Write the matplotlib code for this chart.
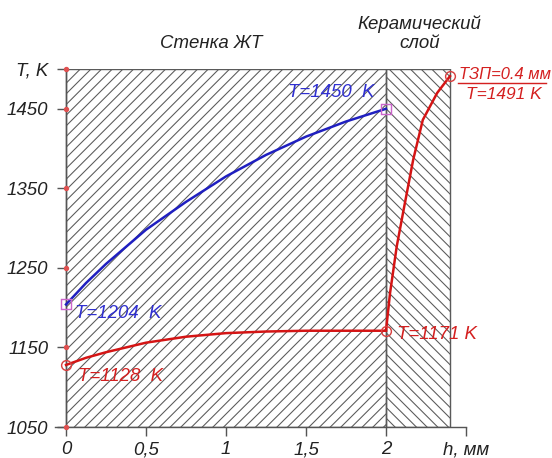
import matplotlib.pyplot as plt
from matplotlib.patches import Rectangle

# данные: стенка ЖТ (0..2 мм) и керамический слой (2..2.4 мм)
h_wall = [0, 0.125, 0.25, 0.5, 0.75, 1.0, 1.25, 1.5, 1.75, 2.0]
T_hot = [1204, 1231, 1255, 1298, 1333, 1365, 1392, 1415, 1434, 1450]
T_cold = [1128, 1137, 1144, 1156, 1163.5, 1168, 1170, 1171, 1171, 1171]
h_ceram = [2.0, 2.025, 2.067, 2.11, 2.17, 2.23, 2.32, 2.4]
T_ceram = [1171, 1218, 1277, 1323, 1386, 1436, 1470, 1491]

x_ticks = [0, 0.5, 1, 1.5, 2, 2.5]
x_labels = ['0', '0,5', '1', '1,5', '2', 'h, мм']
y_ticks = [1050, 1150, 1250, 1350, 1450, 1500]
y_labels = ['1050', '1150', '1250', '1350', '1450', 'T, K']

DPI = 128
FS = 10.5
plt.rcParams['font.family'] = ['Liberation Sans', 'DejaVu Sans']
plt.rcParams['font.style'] = 'italic'
plt.rcParams['hatch.linewidth'] = 0.6

fig = plt.figure(figsize=(552 / DPI, 458 / DPI), dpi=DPI)
ax = fig.add_axes([55 / 552, 31 / 458, 411 / 552, 358 / 458])
ax.set_xlim(-0.069, 2.5)
ax.set_ylim(1050, 1500)

# заштрихованные области
ax.add_patch(Rectangle((0, 1050), 2.0, 450, fill=False, hatch='////',
                       edgecolor='#5a5a5a', lw=0.8, zorder=1))
ax.add_patch(Rectangle((2.0, 1050), 0.4, 450, fill=False, hatch='\\\\\\\\',
                       edgecolor='#5a5a5a', lw=0.8, zorder=1))

ax.plot(h_wall, T_hot, color='#1f1fc0', lw=1.4, zorder=3)
ax.plot(h_wall, T_cold, color='#d41414', lw=1.4, zorder=3)
ax.plot(h_ceram, T_ceram, color='#d41414', lw=1.4, zorder=3)

ax.plot([h_wall[0], h_wall[-1]], [T_hot[0], T_hot[-1]], 's', ms=5.5,
        mfc='none', mec='#cc66cc', mew=0.8, zorder=4, clip_on=False)
ax.plot([h_wall[0], h_wall[-1], h_ceram[-1]], [T_cold[0], T_cold[-1], T_ceram[-1]],
        'o', ms=5.5, mfc='none', mec='#d84040', mew=0.8, zorder=4, clip_on=False)

# оси
ax.spines['top'].set_visible(False)
ax.spines['right'].set_visible(False)
ax.spines['left'].set_position(('data', 0))
ax.spines['left'].set_color('#555555')
ax.spines['bottom'].set_color('#555555')
ax.set_xticks(x_ticks)
ax.set_xticklabels(x_labels)
ax.set_yticks(y_ticks)
ax.set_yticklabels(y_labels)
ax.tick_params(axis='both', length=5, width=0.8, color='#555555',
               labelsize=FS, labelcolor='#222222')
ax.tick_params(axis='y', pad=5)
ax.tick_params(axis='x', pad=3)
ax.plot([0] * len(y_ticks), y_ticks, 'o', ms=2, color='#e05050',
        zorder=5, clip_on=False)

# подписи
blue = '#3030d0'
red = '#d42020'
ax.text(0.056, 1193, 'T=1204  K', color=blue, fontsize=FS, va='center')
ax.text(1.93, 1470, 'T=1450  K', color=blue, fontsize=FS, va='center', ha='right')
ax.text(0.075, 1113, 'T=1128  K', color=red, fontsize=FS, va='center')
ax.text(2.07, 1166, 'T=1171 K', color=red, fontsize=FS, va='center')
ax.text(2.455, 1493, 'ТЗП=0.4 мм', color=red, fontsize=9.3, va='center', clip_on=False)
ax.text(2.50, 1468, 'T=1491 K', color=red, fontsize=9.8, va='center', clip_on=False)
ax.plot([2.45, 3.0], [1483, 1483], color=red, lw=0.8, clip_on=False)

ax.text(0.906, 1532, 'Стенка ЖТ', color='#222222', fontsize=FS, ha='center',
        va='center', clip_on=False)
ax.text(2.21, 1545, 'Керамический\nслой', color='#222222', fontsize=FS,
        ha='center', va='center', linespacing=1.15, clip_on=False)

plt.savefig('out.png', dpi=DPI)
